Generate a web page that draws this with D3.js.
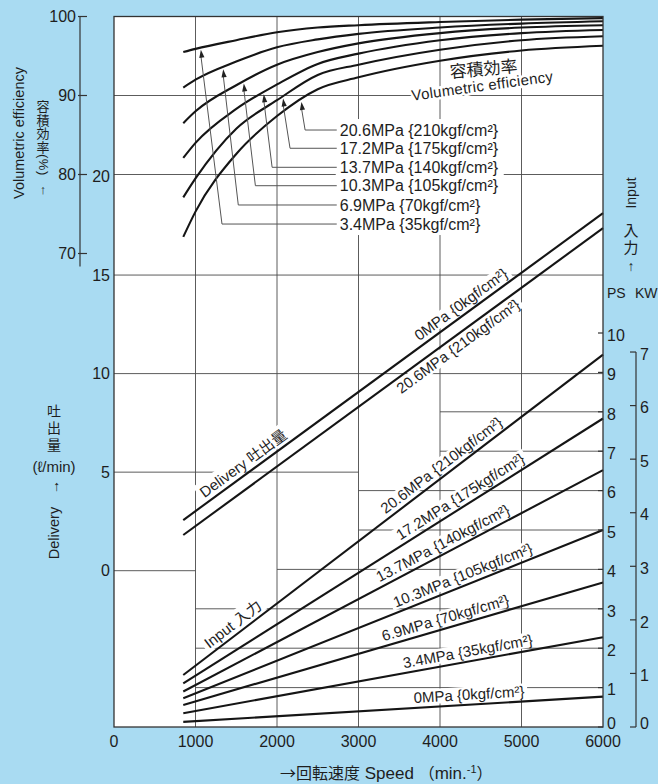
<!DOCTYPE html>
<html><head><meta charset="utf-8">
<script src="https://cdn.jsdelivr.net/npm/d3@7"></script>
<style>
body{margin:0;background:#a9dbf2;}
svg{display:block;}
text{font-family:"Liberation Sans",Arial,sans-serif;fill:#1e1e1e;}
.cjk{font-family:"Noto Sans CJK JP",sans-serif;}
.vert{writing-mode:vertical-rl;text-orientation:mixed;}
</style></head><body>
<svg id="c" width="658" height="784"></svg>
<script>
// ---------- data ----------
const speedTicks=[0,1000,2000,3000,4000,5000,6000];
const effTicks=[70,80,90,100];
const delTicks=[0,5,10,15,20];
const psTicks=[0,1,2,3,4,5,6,7,8,9,10];
const kwTicks=[0,1,2,3,4,5,6,7];
const PS_PER_KW=1.3596;

const pressureMPa=['3.4','6.9','10.3','13.7','17.2','20.6'];
const pressureKgf=['35','70','105','140','175','210'];

const effSpeeds=[850,1000,1500,2000,2500,3000,4000,5000,6000];
const eff34 =[95.5,95.9,97.0,98.0,98.6,98.9,99.3,99.6,99.8];
const eff69 =[91.0,92.0,94.3,96.1,97.1,97.8,98.6,99.1,99.4];
const eff103=[86.5,88.0,91.3,93.9,95.5,96.6,97.9,98.6,98.9];
const eff137=[82.1,84.0,88.3,91.4,94.0,95.3,97.0,97.9,98.3];
const eff172=[77.1,79.5,85.8,89.4,92.6,93.9,95.8,97.0,97.5];
const eff206=[72.1,75.3,82.6,87.4,90.8,92.3,94.4,95.7,96.3];
const effSeries=[eff34,eff69,eff103,eff137,eff172,eff206];

const delSpeeds=[850,6000];
const del0  =[2.57,18.14];
const del206=[1.81,17.38];

const inSpeeds=[850,6000];
const in0  =[0.13,0.77];
const in34 =[0.35,2.28];
const in69 =[0.56,3.67];
const in103=[0.73,5.00];
const in137=[0.90,6.52];
const in172=[1.11,7.83];
const in206=[1.32,9.45];
const inSeries=[in0,in34,in69,in103,in137,in172,in206];
const inMPa=['0','3.4','6.9','10.3','13.7','17.2','20.6'];
const inKgf=['0','35','70','105','140','175','210'];

// annotation anchors (speed / value units)
const arrowTipRpm=[1066,1340,1593,1838,2075,2300];
const arrowCornerRpm=[1325,1525,1735,1940,2160,2345];
const effLabelRow=[73.73,76.14,78.58,80.91,83.32,85.63];
const effLabelRpm=2770;
const inLabelRpm=[4363,4363,4100,4326,4093,4314,4093];

// ---------- setup ----------
const svg=d3.select('#c');
svg.append('rect').attr('width',658).attr('height',784).attr('fill','#a9dbf2');

const x=d3.scaleLinear().domain([0,6000]).range([114,603]);
const yEff=d3.scaleLinear().domain([70,100]).range([253.5,16.5]);
const yDel=d3.scaleLinear().domain([0,20]).range([570.7,176.5]);
const yPS=d3.scaleLinear().domain([0,10]).range([727,333]);
const yKW=d3.scaleLinear().domain([0,7]).range([yPS(0),yPS(7*PS_PER_KW)]);

const pTop=yEff(100), pBot=yPS(0), pLeft=x(0), pRight=x(6000);
svg.append('rect').attr('x',pLeft).attr('y',pTop).attr('width',pRight-pLeft).attr('height',pBot-pTop).attr('fill','#fff');

const gGrid=svg.append('g').attr('stroke','#4a4a4a').attr('stroke-width',0.9);
const gBg=svg.append('g');
const gLines=svg.append('g').attr('fill','none').attr('stroke','#151515').attr('stroke-width',2.1);
const gText=svg.append('g');

speedTicks.slice(1,-1).forEach(s=>{
  gGrid.append('line').attr('x1',x(s)).attr('x2',x(s)).attr('y1',pTop).attr('y2',pBot);
});
const hSegs=[
  [yEff,90,0,6000],[yEff,80,0,6000],
  [yDel,15,0,6000],[yDel,10,0,6000],[yDel,5,0,3000],[yDel,0,0,1000],
  [yPS,8,4000,6000],[yPS,7,4000,6000],[yPS,6,3000,6000],[yPS,5,3000,6000],
  [yPS,4,2000,6000],[yPS,3,1000,6000],[yPS,2,1000,6000],[yPS,1,1000,6000]
];
hSegs.forEach(([sc,v,a,b])=>{
  gGrid.append('line').attr('x1',x(a)).attr('x2',x(b)).attr('y1',sc(v)).attr('y2',sc(v));
});
svg.append('rect').attr('x',pLeft).attr('y',pTop).attr('width',pRight-pLeft).attr('height',pBot-pTop)
  .attr('fill','none').attr('stroke','#333').attr('stroke-width',1.3);

// ---------- efficiency curves ----------
const effLine=d3.line().x(d=>x(d[0])).y(d=>yEff(d[1])).curve(d3.curveMonotoneX);
effSeries.forEach(s=>{
  gLines.append('path').attr('d',effLine(effSpeeds.map((r,i)=>[r,s[i]])));
});

const labX=x(effLabelRpm);
gBg.append('rect').attr('x',labX-4).attr('y',yEff(effLabelRow[5])-11)
  .attr('width',168).attr('height',yEff(effLabelRow[0])-yEff(effLabelRow[5])+22).attr('fill','#fff');
const gLead=svg.append('g');
effSeries.forEach((s,i)=>{
  const f=d3.scaleLinear().domain(effSpeeds).range(s);
  const tx=x(arrowTipRpm[i]), ty=yEff(f(arrowTipRpm[i]))+2;
  const cx=x(arrowCornerRpm[i]), cy=yEff(effLabelRow[i]);
  gLead.append('path').attr('d',`M${labX-3},${cy}H${cx}L${tx},${ty+6}`)
    .attr('fill','none').attr('stroke','#555').attr('stroke-width',1);
  const ang=Math.atan2(ty-cy,tx-cx);
  const L=8,Wd=2.6;
  const bx=tx-L*Math.cos(ang), by=ty-L*Math.sin(ang);
  const px=-Math.sin(ang)*Wd, py=Math.cos(ang)*Wd;
  gLead.append('path').attr('d',`M${tx},${ty}L${bx+px},${by+py}L${bx-px},${by-py}Z`).attr('fill','#222');
  gText.append('text').attr('x',labX).attr('y',cy).attr('dy','0.35em')
    .attr('font-size',16).text(`${pressureMPa[i]}MPa {${pressureKgf[i]}kgf/cm²}`);
});

gText.append('text').attr('class','cjk').attr('transform',`translate(484,75) rotate(-5)`)
  .attr('text-anchor','middle').attr('font-size',17)
  .attr('stroke','#fff').attr('stroke-width',4).attr('paint-order','stroke').text('容積効率');
gText.append('text').attr('transform',`translate(483,91) rotate(-7.8)`)
  .attr('text-anchor','middle').attr('font-size',15).attr('letter-spacing',0.3)
  .attr('stroke','#fff').attr('stroke-width',5).attr('paint-order','stroke').text('Volumetric  efficiency');

// ---------- straight lines with labels ----------
function drawLine(sc,speeds,vals){
  const ln=d3.line().x(d=>x(d[0])).y(d=>sc(d[1]));
  gLines.append('path').attr('d',ln(speeds.map((r,i)=>[r,vals[i]])));
}
function lineLabel(sc,speeds,vals,rpm,parts,off,fs){
  const f=d3.scaleLinear().domain(speeds).range(vals);
  const x0=x(rpm), y0=sc(f(rpm));
  const xa=x(speeds[0]), ya=sc(vals[0]), xb=x(speeds[speeds.length-1]), yb=sc(vals[vals.length-1]);
  const ang=Math.atan2(yb-ya,xb-xa)*180/Math.PI;
  const tr=`translate(${x0},${y0}) rotate(${ang})`;
  const g=gText.append('g').attr('transform',tr);
  const t=g.append('text').attr('y',off).attr('text-anchor','middle').attr('font-size',fs);
  parts.forEach(p=>{
    const ts=t.append('tspan').text(p[0]);
    if(p[1]) ts.attr('class','cjk');
  });
  const bb=t.node().getBBox();
  gBg.append('rect').attr('transform',tr).attr('x',bb.x-3).attr('y',bb.y+1)
    .attr('width',bb.width+6).attr('height',bb.height-2).attr('fill','#fff');
}

drawLine(yDel,delSpeeds,del0);
drawLine(yDel,delSpeeds,del206);
lineLabel(yDel,delSpeeds,del0,4330,[['0MPa {0kgf/cm²}']],-5,15);
lineLabel(yDel,delSpeeds,del206,4150,[['20.6MPa {210kgf/cm²}']],15,15);
lineLabel(yDel,delSpeeds,del0,1660,[['Delivery  '],['吐出量',true]],-5,15);

inSeries.forEach((s,i)=>{
  drawLine(yPS,inSpeeds,s);
  lineLabel(yPS,inSpeeds,s,inLabelRpm[i],[[`${inMPa[i]}MPa {${inKgf[i]}kgf/cm²}`]],-5,15);
});
lineLabel(yPS,inSpeeds,in206,1534,[['Input  '],['入力',true]],-5,15);

// ---------- axes ----------
const gAx=svg.append('g').attr('stroke','#333').attr('stroke-width',1.2);
gAx.append('line').attr('x1',80).attr('x2',80).attr('y1',yEff(100)).attr('y2',yEff(70)+13);
effTicks.forEach(v=>{
  gAx.append('line').attr('x1',78).attr('x2',87).attr('y1',yEff(v)).attr('y2',yEff(v));
  gText.append('text').attr('x',76).attr('y',yEff(v)).attr('dy','0.36em').attr('text-anchor','end')
    .attr('font-size',16).text(v);
});
delTicks.forEach(v=>{
  gText.append('text').attr('x',110).attr('y',yDel(v)).attr('dy','0.36em').attr('text-anchor','end')
    .attr('font-size',16).text(v);
});
speedTicks.forEach(v=>{
  gText.append('text').attr('x',x(v)).attr('y',741).attr('dy','0.36em').attr('text-anchor','middle')
    .attr('font-size',16).text(v);
});
psTicks.forEach(v=>{
  gAx.append('line').attr('x1',598).attr('x2',603).attr('y1',yPS(v)).attr('y2',yPS(v));
  gText.append('text').attr('x',607).attr('y',v===0?yPS(v)-4:yPS(v)+2).attr('dy','0.36em')
    .attr('font-size',16).text(v);
});
gAx.append('line').attr('x1',636).attr('x2',636).attr('y1',yKW(7)).attr('y2',yKW(0));
kwTicks.forEach(v=>{
  gAx.append('line').attr('x1',630).attr('x2',636).attr('y1',yKW(v)).attr('y2',yKW(v));
  gText.append('text').attr('x',640).attr('y',v===0?yKW(v)-4:yKW(v)+2).attr('dy','0.36em')
    .attr('font-size',16).text(v);
});

// ---------- titles ----------
gText.append('text').attr('x',607).attr('y',293).attr('dy','0.36em').attr('font-size',14).text('PS');
gText.append('text').attr('x',635).attr('y',293).attr('dy','0.36em').attr('font-size',14).text('KW');
gText.append('text').attr('transform','translate(631,193) rotate(-90)').attr('dy','0.36em')
  .attr('text-anchor','middle').attr('font-size',14).text('Input');
gText.append('text').attr('class','cjk vert').attr('x',631).attr('y',223)
  .attr('font-size',15).attr('letter-spacing',2).text('入力');
gText.append('text').attr('x',631).attr('y',266).attr('dy','0.36em')
  .attr('text-anchor','middle').attr('font-size',14).text('↑');

gText.append('text').attr('transform','translate(19,133) rotate(-90)').attr('dy','0.36em')
  .attr('text-anchor','middle').attr('font-size',14.5).text('Volumetric efficiency');
const vt=gText.append('text').attr('class','cjk vert').attr('x',43).attr('y',100)
  .attr('font-size',13).attr('letter-spacing',0.5);
vt.append('tspan').text('容積効率');
vt.append('tspan').attr('style','font-family:"Liberation Sans",sans-serif').text('(%)');
gText.append('text').attr('x',43).attr('y',189).attr('dy','0.36em')
  .attr('text-anchor','middle').attr('font-size',13).text('↑');

gText.append('text').attr('class','cjk vert').attr('x',54).attr('y',404)
  .attr('font-size',14).attr('letter-spacing',3).text('吐出量');
gText.append('text').attr('x',54).attr('y',467).attr('dy','0.36em')
  .attr('text-anchor','middle').attr('font-size',15).text('(ℓ/min)');
gText.append('text').attr('transform','translate(54,487) rotate(-90)').attr('dy','0.36em')
  .attr('text-anchor','middle').attr('font-size',14).text('→');
gText.append('text').attr('transform','translate(54,533) rotate(-90)').attr('dy','0.36em')
  .attr('text-anchor','middle').attr('font-size',14.5).text('Delivery');

const xt=gText.append('text').attr('x',280).attr('y',773).attr('dy','0.36em').attr('font-size',17);
xt.append('tspan').attr('class','cjk').attr('font-size',16).text('→回転速度');
xt.append('tspan').text('  Speed ');
xt.append('tspan').attr('class','cjk').attr('font-size',16).text('（');
xt.append('tspan').text('min.');
xt.append('tspan').attr('font-size',11).attr('dy',-6).text('-1');
xt.append('tspan').attr('class','cjk').attr('font-size',16).attr('dy',6).text('）');
</script>
</body></html>
